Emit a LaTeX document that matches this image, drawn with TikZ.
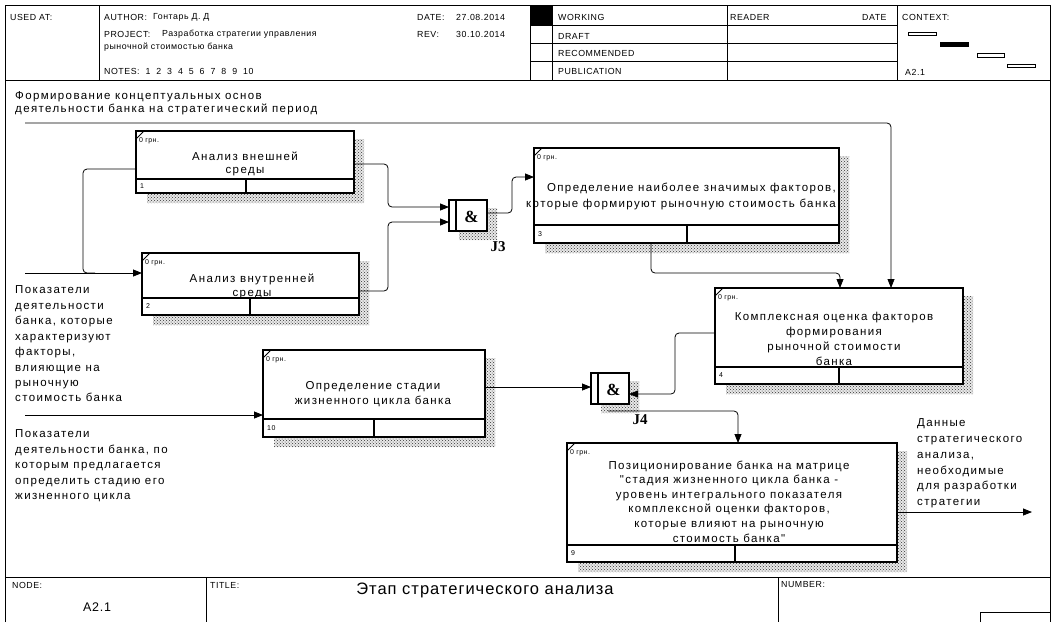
\documentclass[tikz,border=0pt]{standalone}
\usepackage{fontspec}
\setmainfont{Liberation Sans}
\newfontfamily\wsans[LetterSpace=12]{Liberation Sans}
\newfontfamily\hsans[LetterSpace=6]{Liberation Sans}
\newfontfamily\jserif{Liberation Serif}
\usetikzlibrary{arrows.meta,patterns,fit,calc}

\tikzset{
  frameline/.style={line width=0.9pt, black},
  boxrule/.style={line width=1.8pt, black},
  abox/.style={draw, line width=1.8pt, fill=white, inner sep=0pt, outer sep=0pt},
  jbox/.style={draw, line width=1.3pt, fill=white, inner sep=0pt, outer sep=0pt},
  shadebg/.style={fill=black!9},
  shade/.style={pattern=crosshatch dots, pattern color=black!80},
  conn/.style={line width=0.8pt, black, rounded corners=4pt},
  arr/.style={-{Triangle[length=9pt,width=7pt]}},
  hdr/.style={font=\hsans\fontsize{8.8}{10}\selectfont, anchor=west, inner sep=0pt},
  smalltxt/.style={font=\hsans\fontsize{7}{8}\selectfont, anchor=west, inner sep=0pt},
  boxtxt/.style={font=\wsans\fontsize{11.5}{#1}\selectfont, align=center, inner sep=0pt},
  sidetxt/.style={font=\wsans\fontsize{11.5}{#1}\selectfont, align=left, anchor=west, inner sep=0pt},
  jlabel/.style={font=\jserif\bfseries\fontsize{15}{15}\selectfont, inner sep=0pt},
}

% #1 name, #2 L, #3 T, #4 R, #5 B, #6 divider y, #7 divider x, #8 number
\newcommand{\IdefBox}[8]{%
  \path[shadebg] (#4,#3+8) -- (#4+10,#3+8) -- (#4+10,#5+10) -- (#2+11,#5+10) -- (#2+11,#5) -- (#4,#5) -- cycle;
  \fill[shade] (#4,#3+8) -- (#4+10,#3+8) -- (#4+10,#5+10) -- (#2+11,#5+10) -- (#2+11,#5) -- (#4,#5) -- cycle;
  \coordinate (#1tl) at (#2,#3);
  \coordinate (#1br) at (#4,#5);
  \node[abox, fit=(#1tl)(#1br)] (#1) {};
  \draw[boxrule] (#2,#6) -- (#4,#6);
  \draw[boxrule] (#7,#6) -- (#7,#5);
  \draw[line width=0.8pt] (#2,#3+8) -- (#2+8,#3);
  \node[smalltxt] at (#2+3,#3+10) {0 грн.};
  \node[smalltxt] at (#2+4,{(#6+#5)/2}) {#8};
}

% #1 name, #2 L, #3 T, #4 R, #5 B, #6 label
\newcommand{\IdefJunc}[6]{%
  \path[shadebg] (#4,#3+8) -- (#4+10,#3+8) -- (#4+10,#5+9) -- (#2+10,#5+9) -- (#2+10,#5) -- (#4,#5) -- cycle;
  \fill[shade] (#4,#3+8) -- (#4+10,#3+8) -- (#4+10,#5+9) -- (#2+10,#5+9) -- (#2+10,#5) -- (#4,#5) -- cycle;
  \coordinate (#1tl) at (#2,#3);
  \coordinate (#1br) at (#4,#5);
  \node[jbox, fit=(#1tl)(#1br)] (#1) {};
  \draw[line width=1.1pt] (#2+7,#3) -- (#2+7,#5);
  \node[font=\jserif\bfseries\fontsize{17}{17}\selectfont, inner sep=0pt] at ({(#2+7+#4)/2},{(#3+#5)/2+1}) {\&};
  \node[jlabel] at (#4+11,#5+16) {#6};
}

\begin{document}
\begin{tikzpicture}[x=1pt,y=-1pt]
\useasboundingbox (0,0) rectangle (1054,622);
\fill[white] (0,0) rectangle (1054,622);

% ---------- frame & header ----------
\draw[frameline] (5,622) -- (5,5) -- (1050,5) -- (1050,622);
\draw[frameline] (5,80) -- (1050,80);
\foreach \xx in {99,530,552,727,897} \draw[frameline] (\xx,5) -- (\xx,80);
\foreach \yy in {25,43,61} \draw[frameline] (530,\yy) -- (897,\yy);
\fill[black] (530,5) rectangle (552,25);

\node[hdr] at (10,17) {USED AT:};
\node[hdr] at (104,17) {AUTHOR:};
\node[hdr] at (153,17) {Гонтарь Д. Д};
\node[hdr] at (104,34) {PROJECT:};
\node[hdr] at (162,34) {Разработка стратегии управления};
\node[hdr] at (104,47) {рыночной стоимостью банка};
\node[hdr] at (104,71) {NOTES:~~1~~2~~3~~4~~5~~6~~7~~8~~9~~10};
\node[hdr] at (417,17) {DATE:};
\node[hdr] at (456,17) {27.08.2014};
\node[hdr] at (417,34) {REV:};
\node[hdr] at (456,34) {30.10.2014};
\node[hdr] at (558,17) {WORKING};
\node[hdr] at (558,36) {DRAFT};
\node[hdr] at (558,53) {RECOMMENDED};
\node[hdr] at (558,71) {PUBLICATION};
\node[hdr] at (730,17) {READER};
\node[hdr] at (862,17) {DATE};
\node[hdr] at (902,17) {CONTEXT:};
\node[hdr] at (905,72) {A2.1};
\draw[line width=0.8pt] (908,32) rectangle (936,35);
\fill[black] (940,42) rectangle (969,47);
\draw[line width=0.8pt] (977,53) rectangle (1004,57);
\draw[line width=0.8pt] (1007,64) rectangle (1035,67);

% ---------- footer ----------
\draw[frameline] (5,577) -- (1050,577);
\draw[frameline] (206,577) -- (206,622);
\draw[frameline] (778,577) -- (778,622);
\draw[frameline] (980,622) |- (1050,612);
\node[hdr] at (12,585) {NODE:};
\node[hdr] at (210,585) {TITLE:};
\node[hdr] at (781,585) {NUMBER:};
\node[font=\hsans\fontsize{12.5}{14}\selectfont, inner sep=0pt] at (97,607) {A2.1};
\node[font=\hsans\fontsize{16.5}{18}\selectfont, inner sep=0pt] at (485,590) {Этап стратегического анализа};

% ---------- activity boxes ----------
\IdefBox{b1}{136}{131}{354}{193}{179}{246}{1}
\IdefBox{b2}{142}{253}{359}{315}{298}{250}{2}
\IdefBox{b3}{534}{148}{839}{243}{225}{687}{3}
\IdefBox{b4}{715}{288}{963}{384}{367}{839}{4}
\IdefBox{b10}{263}{350}{485}{437}{419}{374}{10}
\IdefBox{b9}{567}{443}{897}{562}{545}{735}{9}

\node[boxtxt=13.5] at (245,164) {Анализ внешней\\среды};
\node[boxtxt=14] at (252,286) {Анализ внутренней\\среды};
\node[boxtxt=16, align=right] at (681,196) {Определение наиболее значимых факторов,\\которые формируют рыночную стоимость банка};
\node[boxtxt=15] at (834,338.5) {Комплексная оценка факторов\\формирования\\рыночной стоимости\\банка};
\node[boxtxt=15] at (373,394.5) {Определение стадии\\жизненного цикла банка};
\node[boxtxt=14.6] at (729,501.5) {Позиционирование банка на матрице\\"стадия жизненного цикла банка -\\уровень интегрального показателя\\комплексной оценки факторов,\\которые влияют на рыночную\\стоимость банка"};

% ---------- junctions ----------
\IdefJunc{j3}{449}{200}{487}{231}{J3}
\IdefJunc{j4}{591}{373}{629}{404}{J4}

% ---------- side labels ----------
\node[sidetxt=13.3] at (15,103.5) {Формирование концептуальных основ\\деятельности банка на стратегический период};
\node[sidetxt=15.45] at (15,344) {Показатели\\деятельности\\банка, которые\\характеризуют\\факторы,\\влияющие на\\рыночную\\стоимость банка};
\node[sidetxt=15.5] at (15,466) {Показатели\\деятельности банка, по\\которым предлагается\\определить стадию его\\жизненного цикла};
\node[sidetxt=15.8] at (917,463.5) {Данные\\стратегического\\анализа,\\необходимые\\для разработки\\стратегии};

% ---------- connectors ----------
\coordinate (ctrl) at (25,123);
\coordinate (in1) at (25,273);
\coordinate (in2) at (25,415);
\coordinate (out) at (1032,512);

\draw[conn,arr] (ctrl) -| ($(b4.north west)+(176,0)$);
\draw[conn,arr] (in1) -- (in1 -| b2.west);
\draw[conn] ($(b1.north west)+(0,38)$) -| ($(in1)+(58,0)$) -- ($(in1)+(70,0)$);
\draw[conn,arr] (in2) -- (in2 -| b10.west);
\draw[conn,arr] ($(b1.north east)+(0,33)$) -| ($(j3.north west)+(-61,7)$) -- ($(j3.north west)+(0,7)$);
\draw[conn,arr] ($(b2.north east)+(0,38)$) -| ($(j3.north west)+(-61,22)$) -- ($(j3.north west)+(0,22)$);
\draw[conn,arr] ($(j3.north east)+(0,13)$) -| ($(b3.north west)+(-22,29)$) -- ($(b3.north west)+(0,29)$);
\draw[conn,arr] ($(b3.south west)+(117,0)$) |- ($(b4.north west)+(125,-15)$) -- ($(b4.north west)+(125,0)$);
\draw[conn,arr] ($(b4.north west)+(0,45)$) -| ($(j4.north east)+(46,21)$) -- ($(j4.north east)+(0,21)$);
\draw[conn,arr] ($(b10.north east)+(0,37)$) -- ($(j4.north west)+(0,14)$);
\coordinate (j4o) at ($(j4.south)+(-2,7)$);
\draw[conn,arr] (j4o) -| ($(b9.north west)+(171,0)$);
\draw[conn,arr] (b9.east |- out) -- (out);
\end{tikzpicture}
\end{document}
